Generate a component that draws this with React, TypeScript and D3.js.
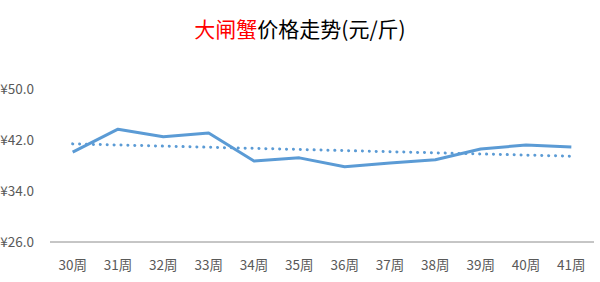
import React from "react";
import * as d3 from "d3";

const weeks = ["30周", "31周", "32周", "33周", "34周", "35周", "36周", "37周", "38周", "39周", "40周", "41周"];
const prices = [40.1, 43.7, 42.5, 43.1, 38.7, 39.2, 37.8, 38.4, 38.9, 40.6, 41.2, 40.9];
const yTicks = [26, 34, 42, 50];
const titleRed = "大闸蟹";
const titleBlack = "价格走势(元/斤)";

const W = 600;
const H = 282;
const FONT = "'Noto Sans CJK SC', 'Noto Sans', sans-serif";

export default function App() {
  const x = d3.scaleBand<string>().domain(weeks).range([50, 594]);
  const y = d3.scaleLinear().domain([26, 50]).range([242, 89]);
  const cx = (w: string) => (x(w) ?? 0) + x.bandwidth() / 2;

  const pts: [number, number][] = weeks.map((w, i) => [cx(w), y(prices[i])]);
  const line = d3.line<[number, number]>().x((d) => d[0]).y((d) => d[1]);

  // linear trendline (least squares)
  const idx = weeks.map((_, i) => i);
  const mx = d3.mean(idx) as number;
  const my = d3.mean(prices) as number;
  const sxy = d3.sum(idx, (i) => (i - mx) * (prices[i] - my));
  const sxx = d3.sum(idx, (i) => (i - mx) * (i - mx));
  const slope = sxy / sxx;
  const icpt = my - slope * mx;
  const trend: [number, number][] = [
    [cx(weeks[0]), y(icpt)],
    [cx(weeks[weeks.length - 1]), y(icpt + slope * (weeks.length - 1))],
  ];

  return (
    <svg
      width={W}
      height={H}
      style={{ position: "absolute", left: 0, top: 0, background: "#fff" }}
      fontFamily={FONT}
    >
      <text x={300} y={37} textAnchor="middle" fontSize={21}>
        <tspan fill="#ff0000">{titleRed}</tspan>
        <tspan fill="#000000">{titleBlack}</tspan>
      </text>

      {yTicks.map((t) => (
        <text
          key={t}
          x={34}
          y={y(t)}
          dy="0.35em"
          textAnchor="end"
          fontSize={13.5}
          fill="#595959"
        >
          {"¥" + t.toFixed(1)}
        </text>
      ))}

      <line x1={50} x2={594} y1={y(26)} y2={y(26)} stroke="#8c8c8c" strokeWidth={1} />

      {weeks.map((w) => (
        <text
          key={w}
          x={cx(w)}
          y={265}
          dy="0.35em"
          textAnchor="middle"
          fontSize={13.5}
          fill="#595959"
        >
          {w}
        </text>
      ))}

      <path
        d={line(trend) ?? ""}
        fill="none"
        stroke="#5b9bd5"
        strokeWidth={3}
        strokeLinecap="round"
        strokeDasharray="0.1 6.8"
      />
      <path
        d={line(pts) ?? ""}
        fill="none"
        stroke="#5b9bd5"
        strokeWidth={3}
        strokeLinejoin="round"
        strokeLinecap="butt"
      />
    </svg>
  );
}
